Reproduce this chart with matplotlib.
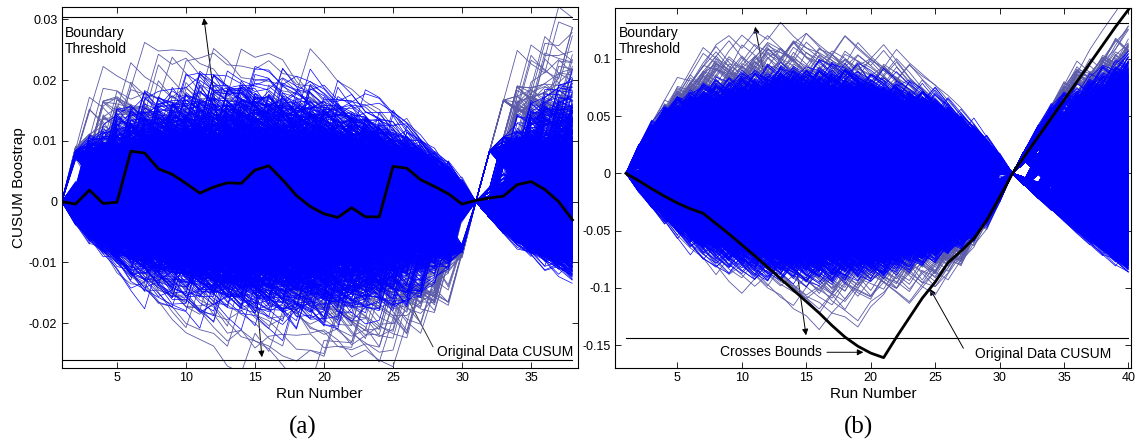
import numpy as np
import matplotlib
matplotlib.use('Agg')
import matplotlib.pyplot as plt
from matplotlib.collections import LineCollection
from matplotlib.ticker import FormatStrFormatter

plt.rcParams['font.family'] = ['Liberation Sans', 'DejaVu Sans']
plt.rcParams['axes.unicode_minus'] = False

# original data CUSUM, panel (a)
runs_a = np.arange(1, 39)
cusum_a = [0.0, -0.0004, 0.0019, -0.0003, -0.0001, 0.0083, 0.0080, 0.0054, 0.0045, 0.0030,
           0.0014, 0.0024, 0.0031, 0.0030, 0.0052, 0.0059, 0.0036, 0.0010, -0.0008, -0.0020,
           -0.0026, -0.0010, -0.0025, -0.0025, 0.0058, 0.0055, 0.0036, 0.0025, 0.0013, -0.0004,
           0.0002, 0.0006, 0.0009, 0.0028, 0.0033, 0.0020, 0.0000, -0.0030]
bounds_a = [0.0304, -0.0261]

# original data CUSUM, panel (b)
runs_b = np.arange(1, 41)
cusum_b = [0.0, -0.0065, -0.0135, -0.020, -0.026, -0.031, -0.035, -0.044, -0.053, -0.0625,
           -0.072, -0.082, -0.092, -0.102, -0.112, -0.122, -0.133, -0.143, -0.151, -0.157,
           -0.161, -0.143, -0.126, -0.109, -0.095, -0.078, -0.068, -0.057, -0.041, -0.021,
           0.0, 0.016, 0.032, 0.048, 0.064, 0.080, 0.096, 0.112, 0.128, 0.143]
bounds_b = [0.1316, -0.1436]

n_boot_a = 2500
n_boot_b = 9000
n_outer = 250  # most extreme resamples, drawn underneath in a duller blue
seg_len = 31   # runs 1..31 form the resampled block


def bootstrap(cusum, n_runs, n_boot, rng):
    # resample the CUSUM increments with replacement and rebuild the curves:
    # the block up to run 31 is re-centred so it closes at zero, later runs keep walking
    steps = np.diff(np.asarray(cusum[:seg_len]))
    steps = steps - steps.mean()
    n_tail = n_runs - seg_len
    paths = np.zeros((n_boot, n_runs))
    for k in range(n_boot):
        s = rng.choice(steps, size=steps.size, replace=True)
        s = s - s.mean()
        tail = rng.choice(steps, size=n_tail, replace=True)
        paths[k, 1:] = np.cumsum(np.concatenate([s, tail]))
    return paths


def draw_panel(ax, runs, cusum, bounds, paths):
    spread = paths.std(axis=0) + 1e-12
    score = np.abs(paths / spread).max(axis=1)
    order = np.argsort(score)
    inner_idx, outer_idx = order[:-n_outer], order[-n_outer:]
    outer = [np.column_stack([runs, p]) for p in paths[outer_idx]]
    inner = [np.column_stack([runs, p]) for p in paths[inner_idx]]
    ax.add_collection(LineCollection(outer, colors='#5a5aa8', linewidths=0.6, zorder=2))
    ax.add_collection(LineCollection(inner, colors='blue', linewidths=0.5, zorder=2.1))
    for b in bounds:
        ax.plot([runs[0], runs[-1]], [b, b], color='black', lw=0.8, zorder=3)
    ax.plot(runs, cusum, color='black', lw=2.0, zorder=4)
    ax.tick_params(direction='in', top=True, right=True, length=4, width=0.6,
                   labelsize=9, pad=3)
    ax.yaxis.set_major_formatter(FormatStrFormatter('%g'))
    for sp in ax.spines.values():
        sp.set_linewidth(0.8)
    ax.set_xlabel('Run Number', fontsize=11, labelpad=2)
    ax.text(0.007, 0.95, 'Boundary\nThreshold', transform=ax.transAxes,
            fontsize=10, ha='left', va='top', zorder=5)


rng = np.random.default_rng(7)
boot_a = bootstrap(cusum_a, len(runs_a), n_boot_a, rng)
boot_b = bootstrap(cusum_b, len(runs_b), n_boot_b, rng)

fig = plt.figure(figsize=(11.39, 4.48), dpi=100)
ax_a = fig.add_axes([0.0540, 0.1786, 0.4532, 0.8047])
ax_b = fig.add_axes([0.5400, 0.1779, 0.4528, 0.8036])

arrow = dict(arrowstyle='-|>', color='black', lw=0.7, mutation_scale=9,
             shrinkA=0, shrinkB=0)
line = dict(arrowstyle='-', color='#333333', lw=0.7, shrinkA=0, shrinkB=0)

# (a)
draw_panel(ax_a, runs_a, cusum_a, bounds_a, boot_a)
ax_a.set_xlim(0.98, 38.38)
ax_a.set_ylim(-0.02737, 0.03195)
ax_a.set_xticks(np.arange(5, 36, 5))
ax_a.set_yticks([-0.02, -0.01, 0, 0.01, 0.02, 0.03])
ax_a.set_ylabel('CUSUM Boostrap', fontsize=11, labelpad=2)
ax_a.annotate('', xy=(11.3, 0.0302), xytext=(13.0, 0.0005), arrowprops=arrow, zorder=1)
ax_a.annotate('', xy=(15.5, -0.0256), xytext=(14.6, -0.002), arrowprops=arrow, zorder=1)
ax_a.annotate('', xy=(23.0, -0.0028), xytext=(27.9, -0.0239), arrowprops=line, zorder=1)
ax_a.text(28.2, -0.0247, 'Original Data CUSUM', fontsize=10, ha='left', va='center', zorder=5)

# (b)
draw_panel(ax_b, runs_b, cusum_b, bounds_b, boot_b)
ax_b.set_xlim(0.16, 40.18)
ax_b.set_ylim(-0.1703, 0.1441)
ax_b.set_xticks(np.arange(5, 41, 5))
ax_b.set_yticks([-0.15, -0.1, -0.05, 0, 0.05, 0.1])
ax_b.annotate('', xy=(11.03, 0.128), xytext=(13.26, -0.006), arrowprops=arrow, zorder=1)
ax_b.annotate('', xy=(14.98, -0.1415), xytext=(13.26, -0.006), arrowprops=arrow, zorder=1)
ax_b.annotate('', xy=(24.6, -0.101), xytext=(27.19, -0.1528), arrowprops=arrow, zorder=1)
ax_b.text(28.1, -0.158, 'Original Data CUSUM', fontsize=10, ha='left', va='center', zorder=5)
ax_b.annotate('', xy=(19.43, -0.1563), xytext=(16.6, -0.1563), arrowprops=arrow, zorder=5)
ax_b.text(8.31, -0.1563, 'Crosses Bounds', fontsize=10, ha='left', va='center', zorder=5)

fig.text(0.266, 0.045, '(a)', family=['Liberation Serif', 'DejaVu Serif'],
         fontsize=18, ha='center', va='center')
fig.text(0.754, 0.045, '(b)', family=['Liberation Serif', 'DejaVu Serif'],
         fontsize=18, ha='center', va='center')

fig.savefig('out.png', dpi=100)
